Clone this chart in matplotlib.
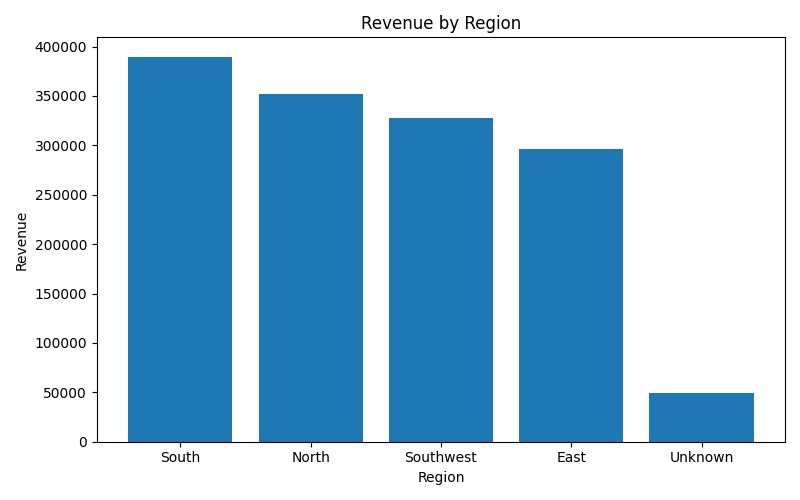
import matplotlib
matplotlib.use("Agg")
import matplotlib.pyplot as plt

# Revenue totals per region
regions = ["South", "North", "Southwest", "East", "Unknown"]
revenue = [389800, 352000, 328000, 296500, 49800]

fig, ax = plt.subplots(figsize=(8, 5), dpi=100)
ax.bar(regions, revenue, color="#1f77b4")
ax.set_title("Revenue by Region")
ax.set_xlabel("Region")
ax.set_ylabel("Revenue")
fig.tight_layout()
fig.savefig("out.png", dpi=100)
plt.close(fig)
